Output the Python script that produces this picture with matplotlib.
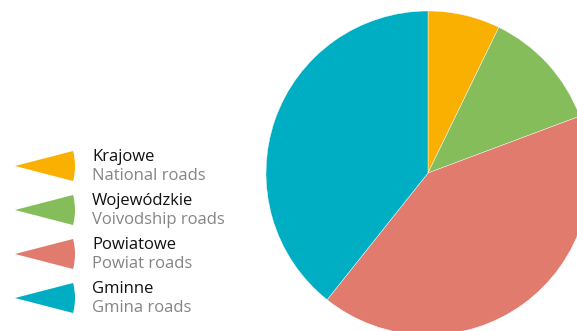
import matplotlib.pyplot as plt
from matplotlib.patches import Wedge

# road categories (Polish / English) and approximate shares in %
labels_pl = ['Krajowe', 'Wojewódzkie', 'Powiatowe', 'Gminne']
labels_en = ['National roads', 'Voivodship roads', 'Powiat roads', 'Gmina roads']
shares = [7.2, 12.1, 41.4, 39.3]
colors = ['#F9B000', '#84BD5A', '#E07B6E', '#00AEC4']

W, H = 577, 331
fig = plt.figure(figsize=(W / 100, H / 100), dpi=100)
ax = fig.add_axes([0, 0, 1, 1])

# pie, partly cut off at right and bottom edges
ax.pie(shares, colors=colors, startangle=90, counterclock=False,
       center=(428, H - 173), radius=162,
       wedgeprops=dict(linewidth=0.3, edgecolor='white'))

# legend: small wedge markers with two-line labels
row_y = [166, 210, 254, 298]
for i in range(len(labels_pl)):
    y = H - row_y[i]
    ax.add_patch(Wedge((15, y), 60, -14.5, 14.5, facecolor=colors[i], edgecolor='none'))
    ax.text(92, y + 9, labels_pl[i], fontsize=12, family='Open Sans',
            color='#111111', va='center', ha='left')
    ax.text(92, y - 10, labels_en[i], fontsize=12, family='Open Sans',
            color='#858585', va='center', ha='left')

ax.set_xlim(0, W)
ax.set_ylim(0, H)
ax.set_aspect('equal')
ax.axis('off')

fig.savefig('out.png', dpi=100)
